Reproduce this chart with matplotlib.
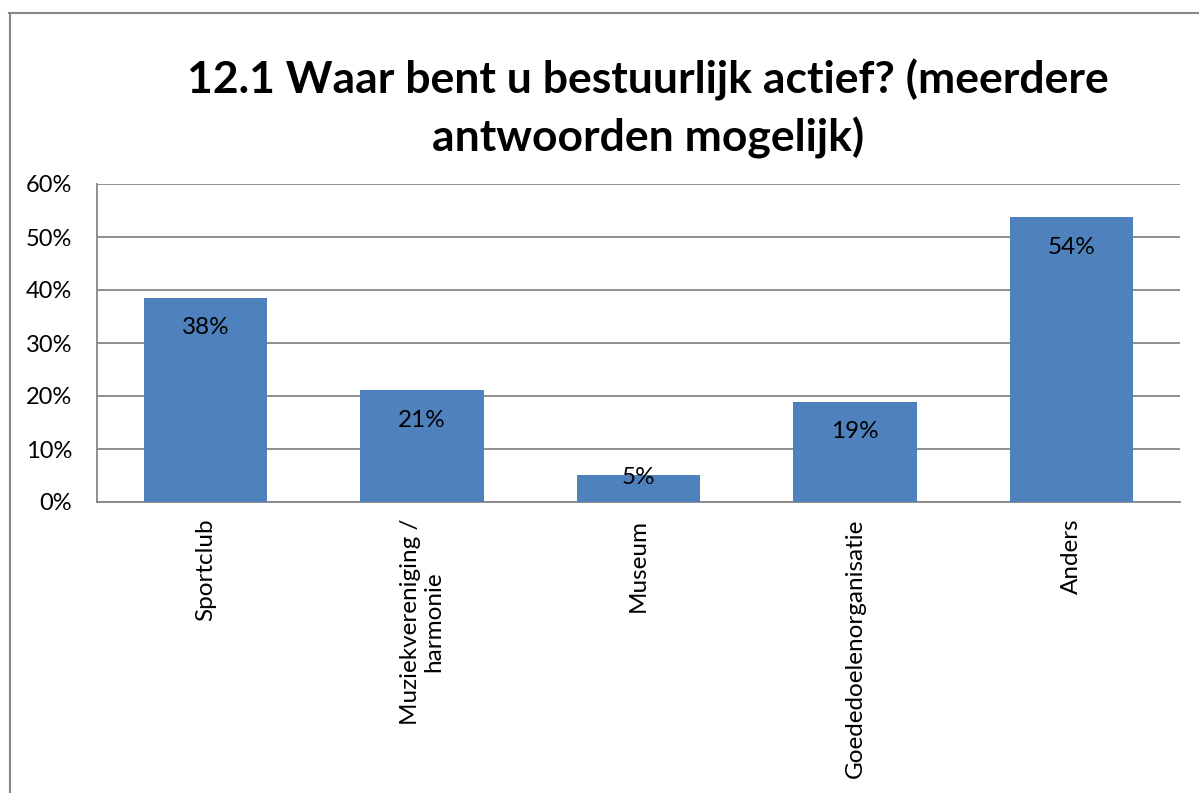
import matplotlib
matplotlib.use("Agg")
import matplotlib.pyplot as plt
from matplotlib.lines import Line2D

categories = ["Sportclub", "Muziekvereniging /\nharmonie", "Museum", "Goededoelenorganisatie", "Anders"]
values = [38.5, 21.1, 5.1, 18.9, 53.7]
labels = ["38%", "21%", "5%", "19%", "54%"]
yticks = [0, 10, 20, 30, 40, 50, 60]
title = "12.1 Waar bent u bestuurlijk actief? (meerdere\nantwoorden mogelijk)"

plt.rcParams['font.family'] = ['Lato', 'DejaVu Sans']

fig = plt.figure(figsize=(11.99, 7.93), dpi=100)
ax = fig.add_axes([97/1199, 1 - 502/793, (1180-97)/1199, (502-184)/793])

grey = "#868686"
x = list(range(len(categories)))
bars = ax.bar(x, values, width=0.57, color="#4F81BD", zorder=3)
for xi, v, lab in zip(x, values, labels):
    ypos = max(v - 5.66, 4.7)  # inside end, clamped so short bars keep the label at the top
    ax.text(xi, ypos, lab, ha="center", va="center", fontsize=17.5,
            color="black", zorder=4)

ax.set_xlim(-0.5, len(categories) - 0.5)
ax.set_ylim(0, 60)
ax.set_yticks(yticks)
ax.set_yticklabels([f"{t}%" for t in yticks], fontsize=17)
ax.set_xticks(x)
ax.set_xticklabels(categories, rotation=90, fontsize=17.5, va="top", ha="center",
                   multialignment="center", linespacing=1.1)
ax.tick_params(axis="both", length=0)
ax.tick_params(axis="y", pad=18)
ax.tick_params(axis="x", pad=12)
ax.grid(axis="y", color=grey, linewidth=1.3, zorder=0)
for s in ["top", "right"]:
    ax.spines[s].set_visible(False)
for s in ["left", "bottom"]:
    ax.spines[s].set_color(grey)
    ax.spines[s].set_linewidth(1.3)

fig.text(648/1199, 1 - 109/793, title, ha="center", va="center", fontsize=32,
         fontweight="bold", linespacing=1.45)

# outer chart border (left and top visible)
fig.add_artist(Line2D([9.5/1199, 9.5/1199], [0, 1 - 13/793], transform=fig.transFigure,
                      color=grey, linewidth=1.5))
fig.add_artist(Line2D([9/1199, 1], [1 - 13/793, 1 - 13/793], transform=fig.transFigure,
                      color=grey, linewidth=1.5))

fig.savefig("out.png", dpi=100)
